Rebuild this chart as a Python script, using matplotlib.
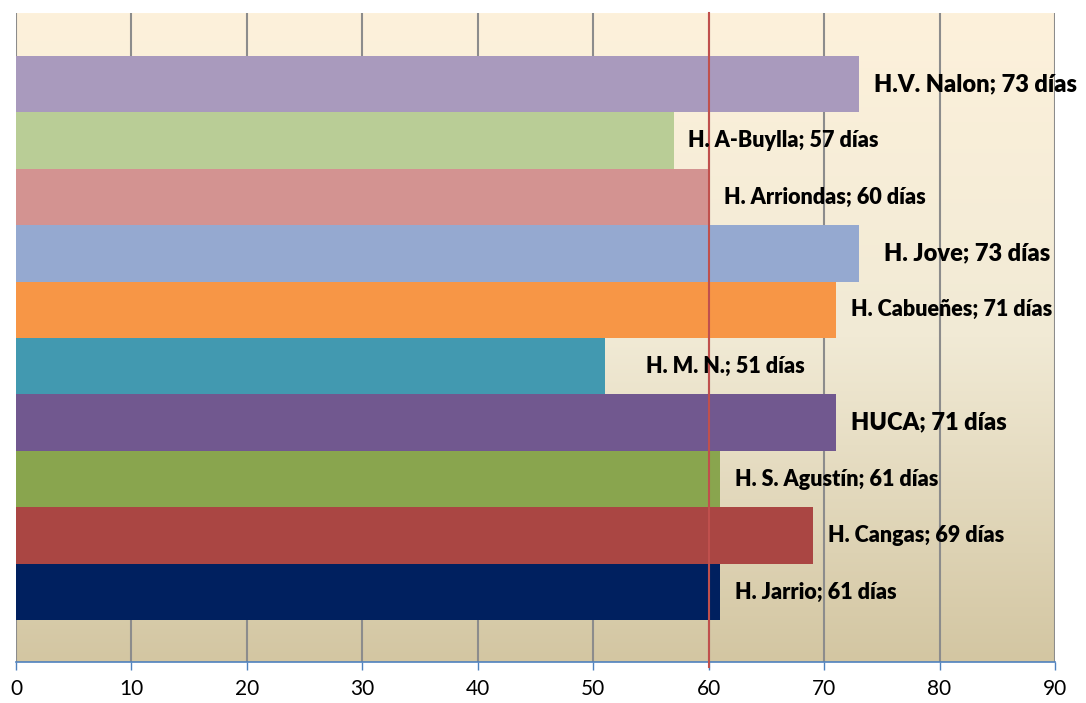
import numpy as np
import matplotlib
matplotlib.use("Agg")
import matplotlib.pyplot as plt
from matplotlib.colors import LinearSegmentedColormap

plt.rcParams['font.family'] = ['Lato', 'DejaVu Sans']

# Data (bottom to top)
hospitals = ["H. Jarrio", "H. Cangas", "H. S. Agustín", "HUCA", "H. M. N.",
             "H. Cabueñes", "H. Jove", "H. Arriondas", "H. A-Buylla", "H.V. Nalon"]
days = [61, 69, 61, 71, 51, 71, 73, 60, 57, 73]
colors = ["#00205F", "#AA4643", "#89A54E", "#71588F", "#4299B0",
          "#F79646", "#95A9D0", "#D39391", "#B9CD96", "#A99ABD"]
label_sizes = [15.5, 15.5, 15.5, 17, 15.5, 15.5, 17, 15.5, 15.5, 17]
label_offsets = [1.3, 1.3, 1.3, 1.35, 3.6, 1.35, 2.15, 1.3, 1.2, 1.3]
reference = 60
xticks = list(range(0, 91, 10))

fig = plt.figure(figsize=(10.86, 7.03), dpi=100)
ax = fig.add_axes([16/1086, 41/703, 1039/1086, 649/703])

# gradient background (top cream -> bottom tan)
cmap = LinearSegmentedColormap.from_list("bg", ["#FDF1DB", "#F1EAD5", "#D3C6A2"])
grad = np.linspace(0, 1, 256).reshape(-1, 1)
ax.imshow(grad, cmap=cmap, aspect='auto', extent=[0, 1, 0, 1], origin='upper',
          transform=ax.transAxes, zorder=0, vmin=0, vmax=1)

ypos = np.arange(len(hospitals))
ax.barh(ypos, days, height=1.0, color=colors, zorder=3)

for xv in xticks:
    ax.axvline(xv, color="#8C8C8C", lw=1.5, zorder=1)

ax.axvline(reference, color="#C0504D", lw=1.5, zorder=4, ymin=-0.008, ymax=1, clip_on=False)

for y, d, h, fs, off in zip(ypos, days, hospitals, label_sizes, label_offsets):
    ax.text(d + off, y, f"{h}; {d} días", va='center', ha='left',
            fontsize=fs, fontweight='heavy', color='black', zorder=5)

ax.set_xlim(0, 90)
ax.set_ylim(-1.24, 10.26)
ax.set_xticks(xticks)
ax.set_yticks([])
ax.tick_params(axis='x', length=6, width=1, color="#4F81BD", labelsize=15, pad=6)
for s in ['top', 'right', 'left']:
    ax.spines[s].set_visible(False)
ax.spines['bottom'].set_color("#4F81BD")
ax.spines['bottom'].set_linewidth(1.2)

fig.savefig("out.png", dpi=100)
